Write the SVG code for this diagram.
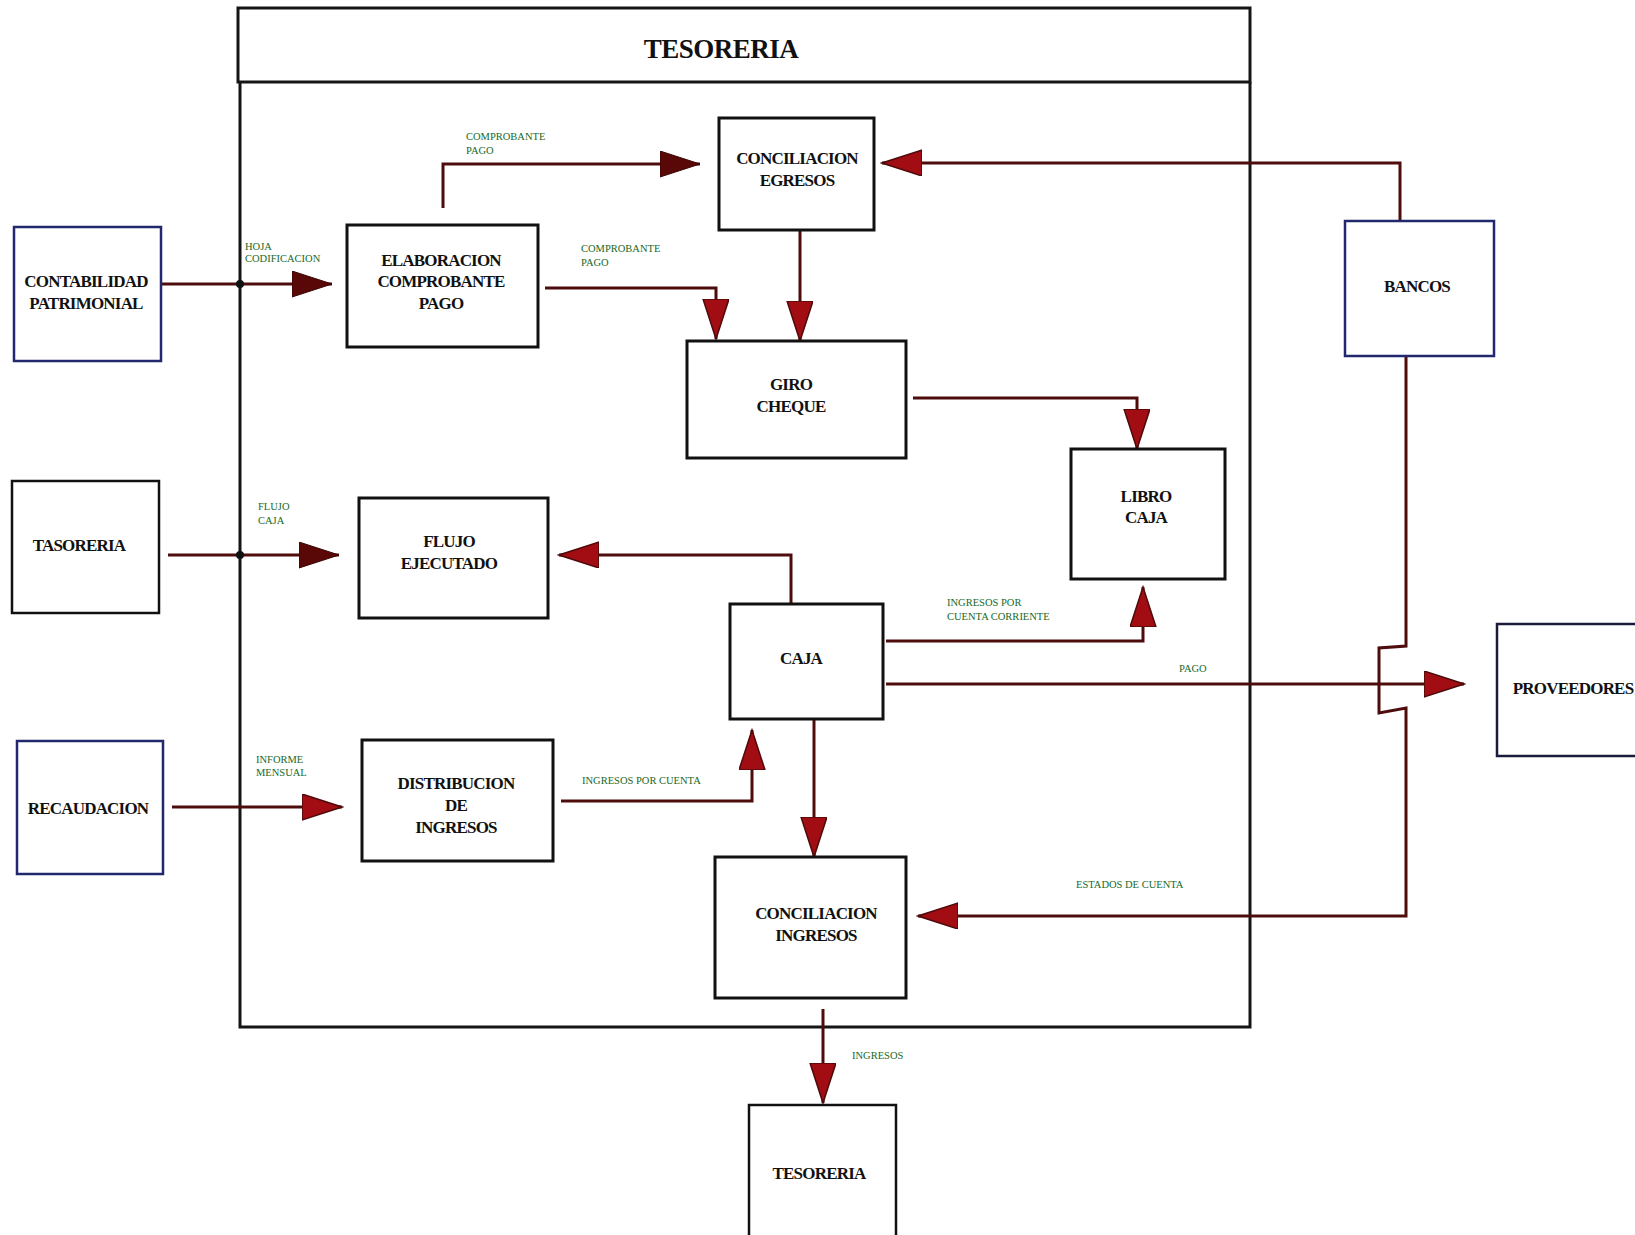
<svg xmlns="http://www.w3.org/2000/svg" width="1635" height="1235" viewBox="0 0 1635 1235">
  <style>
    .box { fill: #ffffff; stroke: #111111; stroke-width: 3; }
    .ext { fill: #ffffff; stroke: #22286e; stroke-width: 2.5; }
    .frame { fill: none; stroke: #151515; stroke-width: 3; }
    .name { font-family: "Liberation Serif", "Times New Roman", serif; font-weight: bold; font-size: 17px; letter-spacing: -0.8px; fill: #111111; text-anchor: middle; }
    .title { font-family: "Liberation Serif", "Times New Roman", serif; font-weight: bold; font-size: 27px; letter-spacing: -0.5px; fill: #111111; text-anchor: middle; }
    .lbl { font-family: "Liberation Serif", "Times New Roman", serif; font-size: 10.5px; fill: #17691f; }
    .wire { fill: none; stroke: #4e0c0c; stroke-width: 3; }
    .dark { marker-end: url(#headDark); }
    .red { marker-end: url(#headRed); }
  </style>
  <defs>
    <marker id="headDark" markerUnits="userSpaceOnUse" markerWidth="42" markerHeight="28" refX="40" refY="13" orient="auto">
      <path d="M0,0 L40,13 L0,26 Z" fill="#5a0707" stroke="#3a0505" stroke-width="1"/>
    </marker>
    <marker id="headRed" markerUnits="userSpaceOnUse" markerWidth="42" markerHeight="28" refX="40" refY="13" orient="auto">
      <path d="M0,0 L40,13 L0,26 Z" fill="#a20d14" stroke="#4e0a0a" stroke-width="1.5"/>
    </marker>
  </defs>

  <rect width="1635" height="1235" fill="#ffffff"/>

  <!-- Treasury frame with title bar -->
  <g id="frame">
    <rect class="frame" x="238" y="8" width="1012" height="74"/>
    <path class="frame" d="M240,82 V1027 H1250 V82"/>
    <text class="title" x="721" y="58">TESORERIA</text>
  </g>

  <!-- Connectors -->
  <g id="connectors">
    <path class="wire dark" d="M160,284 H332"/>
    <circle cx="240" cy="284" r="4" fill="#111"/>
    <path class="wire dark" d="M443,208 V164 H700"/>
    <path class="wire red" d="M545,288 H716 V339"/>
    <path class="wire red" d="M800,231 V341"/>
    <path class="wire red" d="M1400,221 V163 H882"/>
    <path class="wire red" d="M913,398 H1137 V449"/>
    <path class="wire red" d="M791,604 V555 H559"/>
    <path class="wire dark" d="M168,555 H339"/>
    <circle cx="240" cy="555" r="4" fill="#111"/>
    <path class="wire red" d="M886,641 H1143 V587"/>
    <path class="wire red" d="M886,684 H1464"/>
    <path class="wire red" d="M561,801 H752 V730"/>
    <path class="wire red" d="M172,807 H342"/>
    <path class="wire red" d="M814,720 V857"/>
    <path class="wire red" d="M1406,356 V646 L1379,648 V713 L1406,708 V916 H918"/>
    <path class="wire red" d="M823,1009 V1103"/>

    <text class="lbl" x="245" y="250">HOJA</text>
    <text class="lbl" x="245" y="262">CODIFICACION</text>
    <text class="lbl" x="466" y="140">COMPROBANTE</text>
    <text class="lbl" x="466" y="154">PAGO</text>
    <text class="lbl" x="581" y="252">COMPROBANTE</text>
    <text class="lbl" x="581" y="266">PAGO</text>
    <text class="lbl" x="258" y="510">FLUJO</text>
    <text class="lbl" x="258" y="524">CAJA</text>
    <text class="lbl" x="947" y="606">INGRESOS POR</text>
    <text class="lbl" x="947" y="620">CUENTA  CORRIENTE</text>
    <text class="lbl" x="1179" y="672">PAGO</text>
    <text class="lbl" x="256" y="763">INFORME</text>
    <text class="lbl" x="256" y="776">MENSUAL</text>
    <text class="lbl" x="582" y="784">INGRESOS POR CUENTA</text>
    <text class="lbl" x="1076" y="888">ESTADOS DE CUENTA</text>
    <text class="lbl" x="852" y="1059">INGRESOS</text>
  </g>

  <!-- External units -->
  <g id="contabilidad">
    <rect class="ext" x="14" y="227" width="147" height="134"/>
    <text class="name" x="86" y="287">CONTABILIDAD</text>
    <text class="name" x="86" y="309">PATRIMONIAL</text>
  </g>
  <g id="tasoreria">
    <rect class="box" x="12" y="481" width="147" height="132" style="stroke-width:2.5"/>
    <text class="name" x="79" y="551">TASORERIA</text>
  </g>
  <g id="recaudacion">
    <rect class="ext" x="17" y="741" width="146" height="133"/>
    <text class="name" x="88" y="814">RECAUDACION</text>
  </g>
  <g id="bancos">
    <rect class="ext" x="1345" y="221" width="149" height="135"/>
    <text class="name" x="1417" y="292">BANCOS</text>
  </g>
  <g id="proveedores">
    <rect class="box" x="1497" y="624" width="160" height="132" style="stroke:#1a1a3a;stroke-width:2.5"/>
    <text class="name" x="1573" y="694">PROVEEDORES</text>
  </g>
  <g id="tesoreria-out">
    <rect class="box" x="749" y="1105" width="147" height="150" style="stroke-width:2.5"/>
    <text class="name" x="819" y="1179">TESORERIA</text>
  </g>

  <!-- Internal processes -->
  <g id="conciliacion-egresos">
    <rect class="box" x="719" y="118" width="155" height="112"/>
    <text class="name" x="797" y="164">CONCILIACION</text>
    <text class="name" x="797" y="186">EGRESOS</text>
  </g>
  <g id="elaboracion">
    <rect class="box" x="347" y="225" width="191" height="122"/>
    <text class="name" x="441" y="266">ELABORACION</text>
    <text class="name" x="441" y="287">COMPROBANTE</text>
    <text class="name" x="441" y="309">PAGO</text>
  </g>
  <g id="giro-cheque">
    <rect class="box" x="687" y="341" width="219" height="117"/>
    <text class="name" x="791" y="390">GIRO</text>
    <text class="name" x="791" y="412">CHEQUE</text>
  </g>
  <g id="libro-caja">
    <rect class="box" x="1071" y="449" width="154" height="130"/>
    <text class="name" x="1146" y="502">LIBRO</text>
    <text class="name" x="1146" y="523">CAJA</text>
  </g>
  <g id="flujo-ejecutado">
    <rect class="box" x="359" y="498" width="189" height="120"/>
    <text class="name" x="449" y="547">FLUJO</text>
    <text class="name" x="449" y="569">EJECUTADO</text>
  </g>
  <g id="caja">
    <rect class="box" x="730" y="604" width="153" height="115"/>
    <text class="name" x="801" y="664">CAJA</text>
  </g>
  <g id="distribucion">
    <rect class="box" x="362" y="740" width="191" height="121"/>
    <text class="name" x="456" y="789">DISTRIBUCION</text>
    <text class="name" x="456" y="811">DE</text>
    <text class="name" x="456" y="833">INGRESOS</text>
  </g>
  <g id="conciliacion-ingresos">
    <rect class="box" x="715" y="857" width="191" height="141"/>
    <text class="name" x="816" y="919">CONCILIACION</text>
    <text class="name" x="816" y="941">INGRESOS</text>
  </g>
</svg>
